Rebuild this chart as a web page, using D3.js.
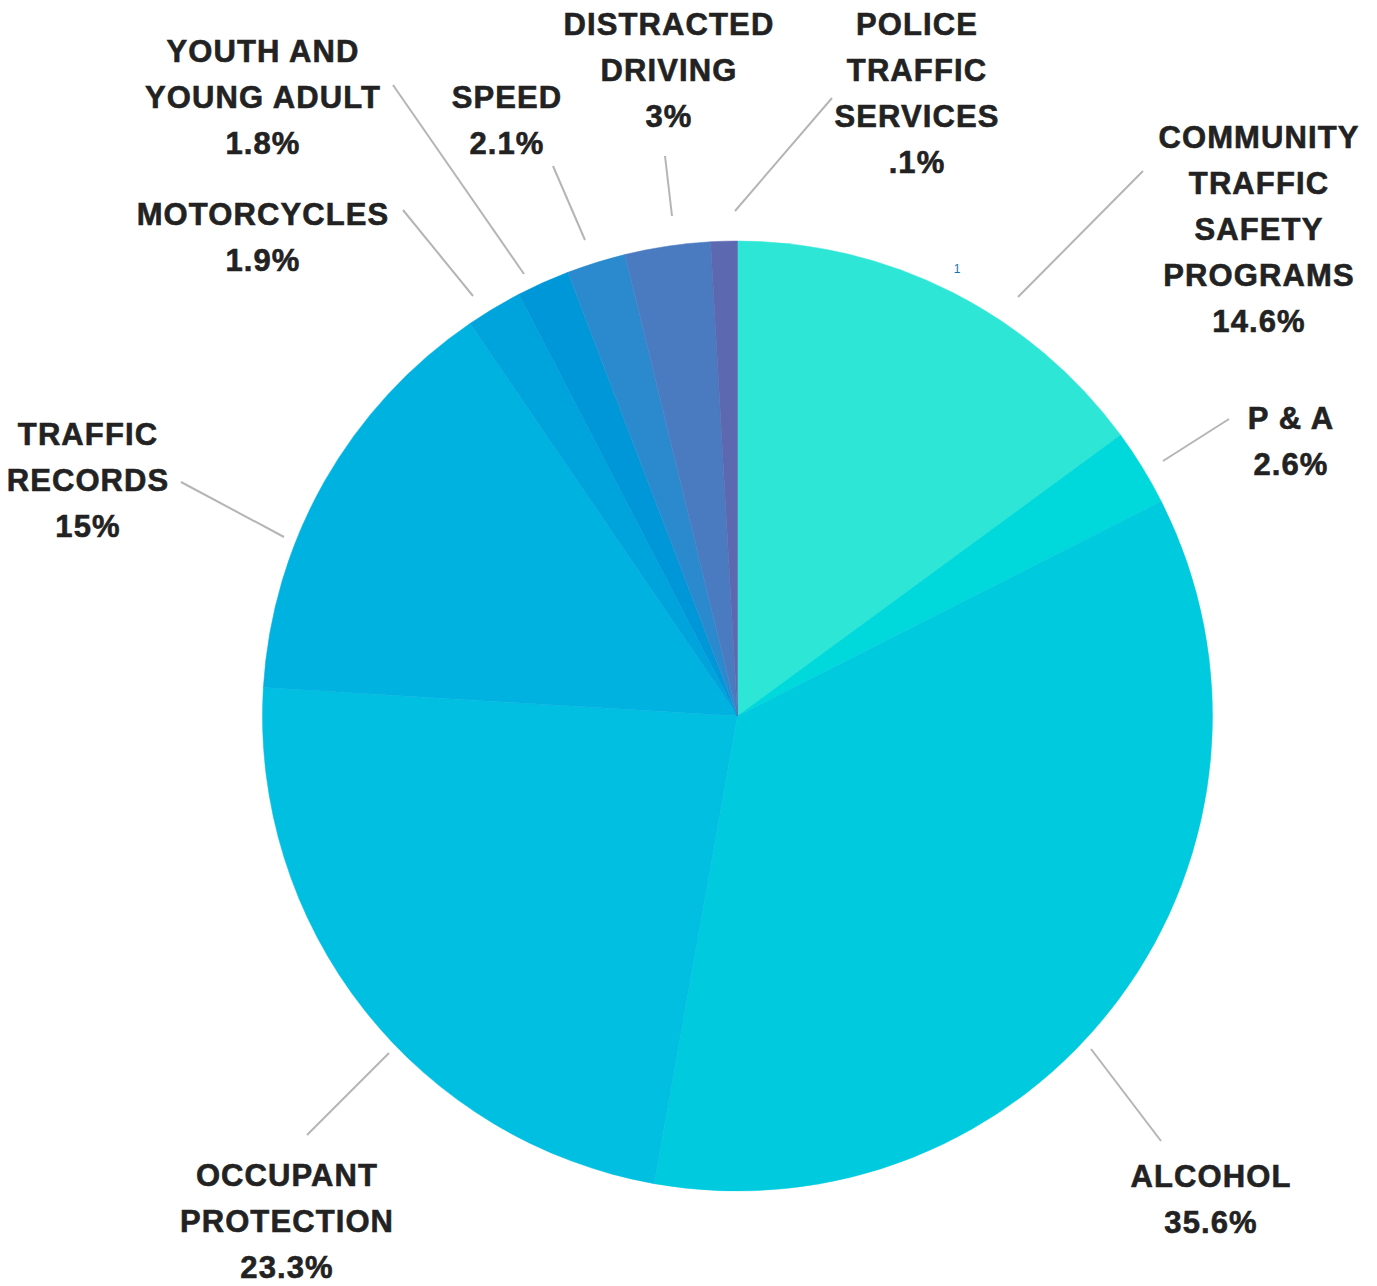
<!DOCTYPE html>
<html>
<head>
<meta charset="utf-8">
<script src="https://cdn.jsdelivr.net/npm/d3@7"></script>
<style>
  body { margin: 0; background: #fff; }
  svg { display: block; }
  .label { font-family: "Liberation Sans", Arial, sans-serif; font-weight: bold; font-size: 31px; fill: #222; stroke: #222; stroke-width: 0.6px; letter-spacing: 1.1px; }
  .leader { stroke: #b5b5b5; stroke-width: 2; }
</style>
</head>
<body>
<div id="chart"></div>
<script>
// program areas, clockwise from 12 o'clock
var categories = [
  ['COMMUNITY', 'TRAFFIC', 'SAFETY', 'PROGRAMS'],
  ['P & A'],
  ['ALCOHOL'],
  ['OCCUPANT', 'PROTECTION'],
  ['TRAFFIC', 'RECORDS'],
  ['MOTORCYCLES'],
  ['YOUTH AND', 'YOUNG ADULT'],
  ['SPEED'],
  ['DISTRACTED', 'DRIVING'],
  ['POLICE', 'TRAFFIC', 'SERVICES']
];
// slice sizes as drawn in the source (police slice is drawn near 1%)
var values = [14.9, 2.6, 35.2, 23.1, 14.5, 1.9, 1.8, 2.0, 2.9, 0.9];
var percentLabels = ['14.6%', '2.6%', '35.6%', '23.3%', '15%', '1.9%', '1.8%', '2.1%', '3%', '.1%'];
var colors = ['#2ee6d6', '#00d9db', '#00cbde', '#00bfe1', '#00b2e0', '#00a4dd', '#0097d8', '#2b8acd', '#4a7bc0', '#5c69b0'];

// label placement (centre x, first baseline) and leader lines
var labelPos = [
  [1259, 148], [1291, 429], [1211, 1187], [287, 1186], [88, 445],
  [263, 225], [263, 62], [507, 108], [669, 35], [917, 35]
];
var leaders = [
  [1018, 297, 1143, 171], [1163, 461, 1229, 419], [1091, 1049, 1161, 1141],
  [389, 1053, 307, 1135], [181, 482, 284, 537], [403, 210, 473, 296],
  [393, 85, 524, 274], [553, 166, 585, 240], [665, 156, 672, 216], [735, 211, 832, 98]
];

var width = 1377, height = 1286;
var cx = 737.5, cy = 716, radius = 475;
var lineHeight = 46;

var svg = d3.select('#chart').append('svg')
    .attr('width', width)
    .attr('height', height);

var pie = d3.pie().sort(null).value(function(d) { return d; });
var arc = d3.arc().innerRadius(0).outerRadius(radius);

var slices = pie(values);

svg.append('g')
    .attr('transform', 'translate(' + cx + ',' + cy + ')')
  .selectAll('path')
    .data(slices)
  .enter().append('path')
    .attr('d', arc)
    .attr('fill', function(d, i) { return colors[i]; })
    .attr('stroke', function(d, i) { return colors[i]; })
    .attr('stroke-width', 0.5);

svg.selectAll('.leader')
    .data(leaders)
  .enter().append('line')
    .attr('class', 'leader')
    .attr('x1', function(d) { return d[0]; })
    .attr('y1', function(d) { return d[1]; })
    .attr('x2', function(d) { return d[2]; })
    .attr('y2', function(d) { return d[3]; })
    .attr('stroke-width', function(d, i) { return i === 6 ? 3 : 2; });

var labels = svg.selectAll('.label')
    .data(categories)
  .enter().append('text')
    .attr('class', 'label')
    .attr('text-anchor', 'middle');

labels.each(function(lines, i) {
  var t = d3.select(this);
  lines.concat([percentLabels[i]]).forEach(function(line, j) {
    t.append('tspan')
      .attr('x', labelPos[i][0])
      .attr('y', labelPos[i][1] + j * lineHeight)
      .text(line);
  });
});

// stray mark in the source image
svg.append('text')
    .attr('x', 957)
    .attr('y', 273)
    .attr('text-anchor', 'middle')
    .style('font-family', 'Liberation Sans, Arial, sans-serif')
    .style('font-size', '12px')
    .attr('fill', '#1a6fb0')
    .text('1');
</script>
</body>
</html>
